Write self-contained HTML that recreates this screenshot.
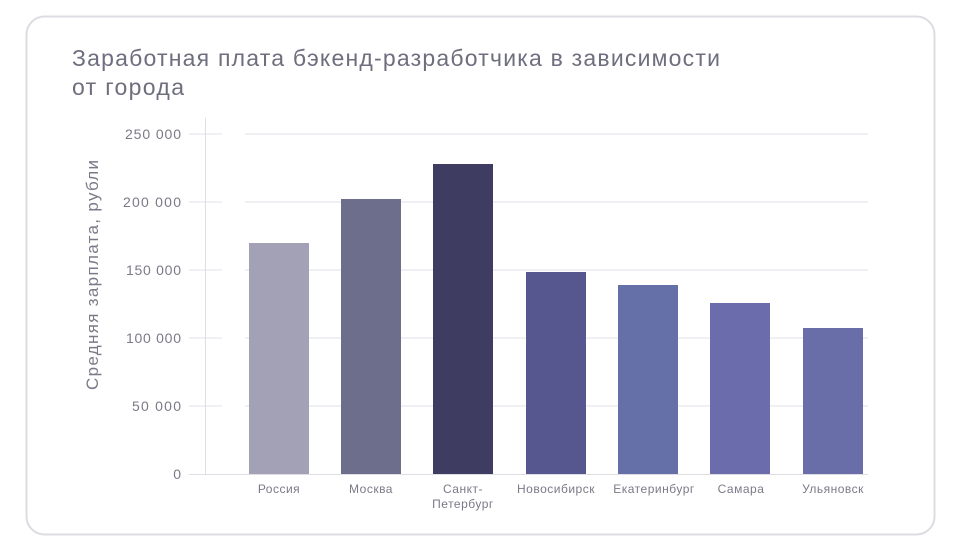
<!DOCTYPE html>
<html><head><meta charset="utf-8"><style>
html,body{margin:0;padding:0;background:#fff;width:961px;height:550px;overflow:hidden}
</style></head><body>
<svg width="961" height="550" xmlns="http://www.w3.org/2000/svg" font-family="Liberation Sans, DejaVu Sans, sans-serif">
<rect x="26.5" y="16.5" width="908" height="518" rx="18" fill="#fff" stroke="#dcdce2" stroke-width="2"/>
<text x="72" y="66" font-size="23" fill="#6e6e7e" textLength="648" lengthAdjust="spacing">Заработная плата бэкенд-разработчика в зависимости</text>
<text x="72" y="95" font-size="23" fill="#6e6e7e" textLength="112" lengthAdjust="spacing">от города</text>
<g stroke="#ebebf0" stroke-width="1.5">
<line x1="189" y1="134" x2="222" y2="134"/><line x1="245" y1="134" x2="868" y2="134"/>
<line x1="189" y1="202" x2="222" y2="202"/><line x1="245" y1="202" x2="868" y2="202"/>
<line x1="189" y1="270" x2="222" y2="270"/><line x1="245" y1="270" x2="868" y2="270"/>
<line x1="189" y1="338" x2="222" y2="338"/><line x1="245" y1="338" x2="868" y2="338"/>
<line x1="189" y1="406" x2="222" y2="406"/><line x1="245" y1="406" x2="868" y2="406"/>
</g>
<line x1="205.5" y1="118" x2="205.5" y2="474" stroke="#dedee4" stroke-width="1"/>
<line x1="189" y1="474.5" x2="868" y2="474.5" stroke="#dedee4" stroke-width="1"/>
<g font-size="14" fill="#7a7a88" text-anchor="end">
<text x="181" y="139" textLength="56" lengthAdjust="spacing">250 000</text><text x="181" y="207" textLength="58" lengthAdjust="spacing">200 000</text>
<text x="181" y="275" textLength="55" lengthAdjust="spacing">150 000</text><text x="181" y="343" textLength="55" lengthAdjust="spacing">100 000</text>
<text x="181" y="411" textLength="49" lengthAdjust="spacing">50 000</text><text x="181" y="479">0</text>
</g>
<text transform="translate(98,275) rotate(-90)" font-size="17" fill="#7a7a88" text-anchor="middle" textLength="230" lengthAdjust="spacing">Средняя зарплата, рубли</text>
<rect x="249" y="243" width="60" height="231" fill="#a3a1b5"/>
<rect x="341" y="199" width="60" height="275" fill="#6d6e8c"/>
<rect x="433" y="164" width="60" height="310" fill="#3f3c62"/>
<rect x="526" y="272" width="60" height="202" fill="#55578e"/>
<rect x="618" y="285" width="60" height="189" fill="#6670a8"/>
<rect x="710" y="303" width="60" height="171" fill="#6a6cab"/>
<rect x="803" y="328" width="60" height="146" fill="#696ea8"/>
<g font-size="12" fill="#7a7a88" text-anchor="middle" letter-spacing="0.5">
<text x="279" y="493">Россия</text>
<text x="371" y="493">Москва</text>
<text x="463" y="493">Санкт-</text><text x="463" y="508">Петербург</text>
<text x="556" y="493">Новосибирск</text>
<text x="654" y="493">Екатеринбург</text>
<text x="741" y="493">Самара</text>
<text x="833" y="493">Ульяновск</text>
</g>
</svg>
</body></html>
